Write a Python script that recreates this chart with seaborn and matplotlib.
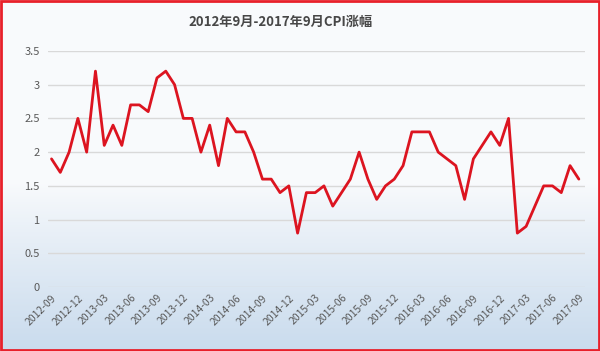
import numpy as np
import matplotlib
matplotlib.use("Agg")
import matplotlib.pyplot as plt
import seaborn as sns
from matplotlib.patches import Rectangle

# 2012-09 .. 2017-09, monthly CPI (%)
months = [f"{y}-{m:02d}" for y in range(2012, 2018) for m in range(1, 13)]
months = months[months.index("2012-09"): months.index("2017-09") + 1]
cpi = [1.9, 1.7, 2.0, 2.5,
       2.0, 3.2, 2.1, 2.4, 2.1, 2.7, 2.7, 2.6, 3.1, 3.2, 3.0, 2.5,
       2.5, 2.0, 2.4, 1.8, 2.5, 2.3, 2.3, 2.0, 1.6, 1.6, 1.4, 1.5,
       0.8, 1.4, 1.4, 1.5, 1.2, 1.4, 1.6, 2.0, 1.6, 1.3, 1.5, 1.6,
       1.8, 2.3, 2.3, 2.3, 2.0, 1.9, 1.8, 1.3, 1.9, 2.1, 2.3, 2.1,
       2.5, 0.8, 0.9, 1.2, 1.5, 1.5, 1.4, 1.8, 1.6]
title = "2012年9月-2017年9月CPI涨幅"

sns.set_theme(style="white")
plt.rcParams["font.family"] = ["Noto Sans CJK SC", "DejaVu Sans"]

fig = plt.figure(figsize=(6.0, 3.51), dpi=100)

# background: near-white on top, light blue fading in towards the bottom
bg = fig.add_axes([0, 0, 1, 1], zorder=-10)
t = np.linspace(0, 1, 256)
w = np.clip((t - 0.52) / 0.48, 0, 1) ** 0.9
top = np.array([0.976, 0.982, 0.99])
bot = np.array([0.79, 0.86, 0.93])
grad = top[None, :] * (1 - w[:, None]) + bot[None, :] * w[:, None]
bg.imshow(grad[:, None, :].repeat(2, axis=1), aspect="auto", extent=[0, 1, 0, 1])
bg.set_axis_off()

ax = fig.add_axes([0.08, 0.182, 0.895, 0.673])
ax.set_facecolor("none")
x = np.arange(len(cpi))
sns.lineplot(x=x, y=cpi, ax=ax, color="#dc1420", lw=2.0)

ax.set_ylim(0, 3.5)
ax.set_xlim(-0.4, len(cpi) - 0.3)
ax.set_yticks(np.arange(0, 3.51, 0.5))
ax.set_yticklabels([f"{v:g}" for v in np.arange(0, 3.51, 0.5)])
ax.yaxis.grid(True, color="#d9d9d9", lw=1.0)
ax.set_xticks(x[::3])
ax.set_xticklabels(months[::3], rotation=45, ha="right", rotation_mode="anchor")
ax.tick_params(axis="x", labelsize=7.5, colors="#595959", length=0, pad=4)
ax.tick_params(axis="y", labelsize=8, colors="#595959", length=0, pad=6)
for s in ax.spines.values():
    s.set_visible(False)

fig.text(0.467, 0.937, title, ha="center", va="center", fontsize=9.5,
         fontweight="bold", color="#474747")

fig.patches.append(Rectangle((0.002, 0.003), 0.996, 0.994, transform=fig.transFigure,
                             fill=False, edgecolor="#e8202a", lw=2))

fig.savefig("out.png", dpi=100)
